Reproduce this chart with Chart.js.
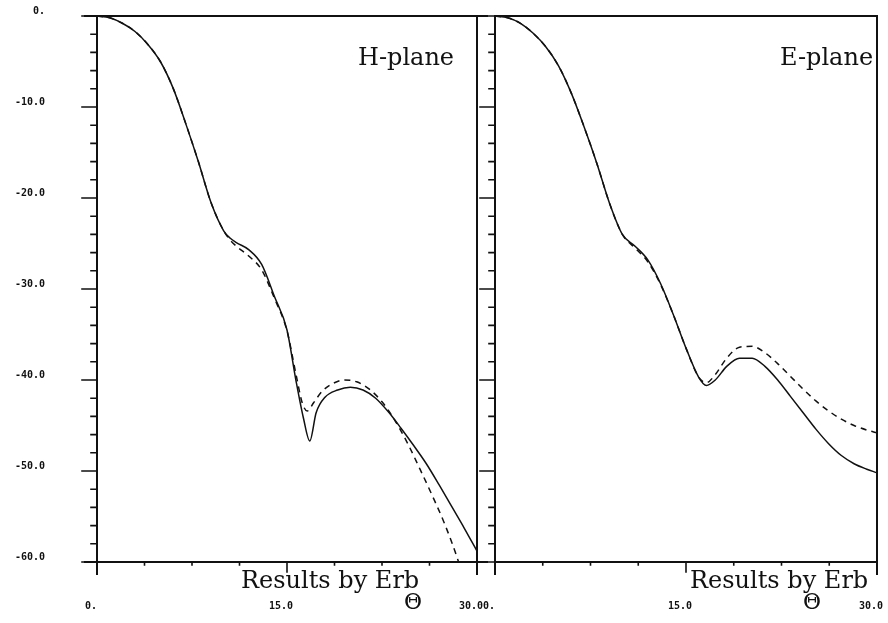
<!DOCTYPE html>
<html>
<head>
<meta charset="utf-8">
<script src="https://cdn.jsdelivr.net/npm/chart.js@4/dist/chart.umd.min.js"></script>
<style>
  html, body { margin: 0; padding: 0; background: #fff; }
  #wrap { position: relative; width: 888px; height: 623px; overflow: hidden; }
  canvas { position: absolute; top: 0; }
  #left { left: 0; }
  #right { left: 478px; }
</style>
</head>
<body>
<div id="wrap">
  <canvas id="left" width="488" height="623"></canvas>
  <canvas id="right" width="410" height="623"></canvas>
</div>
<script>
'use strict'

// H-plane, solid (computed) curve
const hAngle = [0, 1, 2, 3, 4, 5, 6, 7, 8, 9, 10, 10.5, 11, 12, 13, 14, 15, 15.7, 16.3, 16.8, 17.3, 18, 19, 20, 21, 22, 23, 24, 25, 26, 27, 28, 29, 30]
const hPlane = [0, -0.2, -0.8, -1.7, -3.1, -5.0, -7.9, -11.8, -16.0, -20.5, -23.6, -24.4, -24.9, -25.7, -27.3, -30.8, -34.5, -40, -44.2, -46.7, -43.6, -41.9, -41.1, -40.8, -41.1, -42, -43.5, -45.3, -47.2, -49.2, -51.5, -53.9, -56.3, -58.8]
// H-plane, dashed (Erb) curve
const hErbAngle = [0, 1, 2, 3, 4, 5, 6, 7, 8, 9, 10, 10.5, 11, 12, 13, 14, 15, 15.7, 16.2, 16.6, 17.1, 17.8, 18.6, 19.5, 20.5, 21.5, 22.5, 23.5, 24.5, 25.5, 26.5, 27.5, 28.5, 29.2]
const hErb = [0, -0.2, -0.8, -1.7, -3.1, -5.0, -7.9, -11.8, -16.0, -20.5, -23.6, -24.6, -25.3, -26.4, -27.9, -31, -34.6, -39.3, -42.5, -43.4, -42.5, -41.2, -40.4, -40, -40.2, -41, -42.4, -44.4, -46.9, -49.8, -52.8, -56, -59.8, -63]

// E-plane, solid curve
const eAngle = [0, 1, 2, 3, 4, 5, 6, 7, 8, 9, 10, 11, 12, 13, 14, 15, 16, 16.6, 17.3, 18.2, 19.2, 20.2, 21.2, 22.2, 23.2, 24.2, 25.2, 26.2, 27.2, 28.2, 29.2, 30]
const ePlane = [0, -0.2, -0.8, -1.9, -3.4, -5.5, -8.5, -12.2, -16.2, -20.6, -24, -25.3, -26.8, -29.4, -32.8, -36.5, -39.7, -40.6, -40, -38.5, -37.6, -37.6, -38.5, -40, -41.8, -43.6, -45.4, -47, -48.3, -49.2, -49.8, -50.2]
// E-plane, dashed (Erb) curve
const eErbAngle = [0, 1, 2, 3, 4, 5, 6, 7, 8, 9, 10, 11, 12, 13, 14, 15, 16, 16.6, 17.3, 18.2, 19.2, 20.2, 21.2, 22.2, 23.2, 24.2, 25.2, 26.2, 27.2, 28.2, 29.2, 30]
const eErb = [0, -0.2, -0.8, -1.9, -3.4, -5.5, -8.5, -12.2, -16.2, -20.6, -24, -25.5, -27, -29.5, -32.8, -36.5, -39.7, -40.3, -39.4, -37.6, -36.4, -36.3, -37, -38.2, -39.6, -41, -42.3, -43.4, -44.3, -45, -45.5, -45.8]

const INK = '#111111'

const pts = (xs, ys) => xs.map((x, i) => ({ x, y: ys[i] }))

const fmt = (v) => (v === 0 ? '0.' : v.toFixed(1))

// the scales add label padding to the layout, drop it so the plot box stays put
const noPad = (scale) => {
  scale.paddingTop = 0
  scale.paddingBottom = 0
  scale.paddingLeft = 0
  scale.paddingRight = 0
}

// axes box, tick marks and the text labels on the plot
const framePlugin = {
  id: 'frame',
  afterDraw(chart, args, opts) {
    const { ctx, chartArea: a, scales } = chart
    const x = scales.x
    const y = scales.y
    ctx.save()
    ctx.strokeStyle = INK
    ctx.lineCap = 'square'

    ctx.lineWidth = 2
    ctx.beginPath()
    // left axis, running a bit below the bottom
    ctx.moveTo(a.left, a.top)
    ctx.lineTo(a.left, a.bottom + 12)
    // bottom axis
    ctx.moveTo(a.left - opts.extLeft, a.bottom)
    ctx.lineTo(a.right + opts.extRight, a.bottom)
    // top and right border
    ctx.moveTo(a.left - opts.extLeft, a.top)
    ctx.lineTo(a.right + opts.extRight, a.top)
    ctx.moveTo(a.right, a.top)
    ctx.lineTo(a.right, a.bottom + 12)
    ctx.stroke()

    ctx.lineWidth = 1.6
    ctx.beginPath()
    for (let v = 0; v >= -60; v -= 2) {
      const py = y.getPixelForValue(v)
      const len = v % 10 === 0 ? 15 : 6
      ctx.moveTo(a.left - len, py)
      ctx.lineTo(a.left, py)
    }
    for (let i = 1; i < 8; i++) {
      const px = x.getPixelForValue(i * 3.75)
      const len = i % 4 === 0 ? 10 : 3
      ctx.moveTo(px, a.bottom)
      ctx.lineTo(px, a.bottom + len)
    }
    ctx.stroke()

    ctx.fillStyle = INK
    ctx.textBaseline = 'alphabetic'
    ctx.textAlign = 'left'
    ctx.font = '24px "DejaVu Serif"'
    ctx.fillText(opts.plane, opts.planeX, 65)
    ctx.fillText('Results by Erb', opts.erbX, 588)
    ctx.font = '22px "DejaVu Serif"'
    ctx.textAlign = 'center'
    ctx.textBaseline = 'middle'
    ctx.fillText('Θ', opts.thetaX, 603)
    ctx.restore()
  }
}

function initPanel(id, solid, dashed, panel) {
  return new Chart(document.getElementById(id), {
    type: 'scatter',
    data: {
      datasets: [
        {
          label: 'computed',
          data: solid,
          showLine: true,
          borderColor: INK,
          borderWidth: 1.5,
          pointRadius: 0,
          cubicInterpolationMode: 'monotone'
        },
        {
          label: 'Erb',
          data: dashed,
          showLine: true,
          borderColor: INK,
          borderWidth: 1.5,
          borderDash: [6, 5],
          pointRadius: 0,
          cubicInterpolationMode: 'monotone'
        }
      ]
    },
    options: {
      responsive: false,
      animation: false,
      layout: {
        padding: { top: 16, right: panel.padRight, left: 0, bottom: 0 }
      },
      scales: {
        x: {
          type: 'linear',
          min: 0,
          max: 30,
          grid: { display: false, drawTicks: false },
          border: { display: false },
          ticks: {
            stepSize: 15,
            padding: 38,
            labelOffset: -6,
            maxRotation: 0,
            color: INK,
            font: { family: 'DejaVu Sans Mono', size: 10, weight: 'bold' },
            callback: fmt
          },
          afterFit: (scale) => {
            scale.height = 61
            noPad(scale)
          }
        },
        y: {
          min: -60,
          max: 0,
          grid: { display: false, drawTicks: false },
          border: { display: false },
          ticks: {
            display: panel.yLabels,
            stepSize: 10,
            padding: 52,
            labelOffset: -5,
            color: INK,
            font: { family: 'DejaVu Sans Mono', size: 10, weight: 'bold' },
            callback: fmt
          },
          afterFit: (scale) => {
            scale.width = panel.yWidth
            noPad(scale)
          }
        }
      },
      plugins: {
        legend: { display: false },
        tooltip: { enabled: false },
        frame: panel.frame
      }
    },
    plugins: [framePlugin]
  })
}

initPanel('left', pts(hAngle, hPlane), pts(hErbAngle, hErb), {
  padRight: 11,
  yWidth: 97,
  yLabels: true,
  frame: { plane: 'H-plane', planeX: 358, erbX: 241, thetaX: 413, extLeft: 12, extRight: 10 }
})

initPanel('right', pts(eAngle, ePlane), pts(eErbAngle, eErb), {
  padRight: 11,
  yWidth: 17,
  yLabels: false,
  frame: { plane: 'E-plane', planeX: 302, erbX: 212, thetaX: 334, extLeft: 0, extRight: 0 }
})
</script>
</body>
</html>
